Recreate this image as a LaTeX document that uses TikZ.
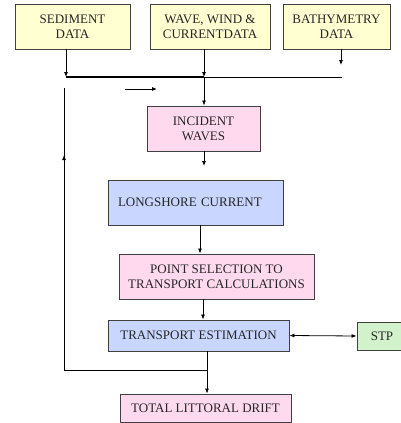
\documentclass[tikz,border=0pt]{standalone}
\usepackage{fontspec}
\setmainfont{Liberation Serif}
\usetikzlibrary{arrows.meta}
\definecolor{yel}{HTML}{FFFFD2}
\definecolor{pnk}{HTML}{FFDAEE}
\definecolor{blu}{HTML}{C9D6FF}
\definecolor{grn}{HTML}{D2F2CC}
\definecolor{edge}{HTML}{404040}
\begin{document}
\begin{tikzpicture}[x=1pt,y=-1pt,
  box/.style={draw=edge,line width=0.9pt,rectangle,align=center,inner sep=0pt,
    text=black!85,font=\fontsize{13}{15}\selectfont},
  ybox/.style={box,fill=yel},
  pbox/.style={box,fill=pnk},
  bbox/.style={box,fill=blu},
  gbox/.style={box,fill=grn},
  arr/.style={-{Latex[length=5pt,width=4pt]},line width=0.8pt},
  ln/.style={line width=0.8pt}]
\useasboundingbox (0,0) rectangle (401,423);
\begin{scope}
\clip (0,0) rectangle (401,423);
\node[ybox,minimum width=115pt,minimum height=45pt] (sed) at (72.5,26.5) {SEDIMENT\\DATA};
\node[ybox,minimum width=120pt,minimum height=45pt] (wave) at (210,26.5) {WAVE, WIND \&\\CURRENTDATA};
\node[ybox,minimum width=107pt,minimum height=45pt] (bath) at (336.5,26.5) {BATHYMETRY\\DATA};
\node[pbox,minimum width=113pt,minimum height=45pt] (inc) at (203.5,128.5) {INCIDENT\\WAVES};
\node[bbox,minimum width=175pt,minimum height=45pt,text width=175pt,align=left] (long) at (195.5,202.5) {\hspace*{10pt}\raisebox{-4pt}{LONGSHORE CURRENT}};
\node[pbox,minimum width=195pt,minimum height=45pt] (point) at (216.5,276.5) {POINT SELECTION TO\\TRANSPORT CALCULATIONS};
\node[bbox,minimum width=181pt,minimum height=31pt] (te) at (198.5,335.5) {TRANSPORT ESTIMATION};
\node[gbox,minimum width=50pt,minimum height=28pt] (stp) at (382,336) {STP};
\node[pbox,minimum width=171pt,minimum height=28pt] (tld) at (205.5,408) {TOTAL LITTORAL DRIFT};
\end{scope}
% junctions
\coordinate (j1) at (66,77);
\coordinate (j2) at (204,77);
\coordinate (j3) at (342,77);
\coordinate (b1) at (341,65);
\coordinate (sa) at (125,89);
\coordinate (sb) at (157,89);
\coordinate (f0) at (207,370);
\coordinate (f1) at (64,370);
\coordinate (f2) at (64,88);
\coordinate (fa) at (64,182);
\coordinate (fb) at (64,155);
\coordinate (i1) at (204,166);
% connectors
\draw[arr] (sed.south -| j1) -- (j1);
\draw[line width=1.4pt] (j1) -- (j2);
\draw[ln] (j2) -- (j3);
\draw[arr] (wave.south -| j2) -- (j2);
\draw[arr] (j2) -- (inc.north -| j2);
\draw[arr] (bath.south -| b1) -- (b1);
\draw[arr] (sa) -- (sb);
\draw[arr] (inc.south -| i1) -- (i1);
\draw[arr] (long.south -| 200,0) -- (point.north -| 200,0);
\draw[arr] (point.south -| 203,0) -- (te.north -| 203,0);
\draw[arr,{Latex[length=5pt,width=4pt]}-{Latex[length=5pt,width=4pt]}] (te.east) -- (stp.west);
\draw[arr] (te.south -| f0) -- (tld.north -| f0);
\draw[ln] (f0) -- (f1) -- (f2);
\draw[arr,line width=1pt] (fa) -- (fb);
\end{tikzpicture}
\end{document}
